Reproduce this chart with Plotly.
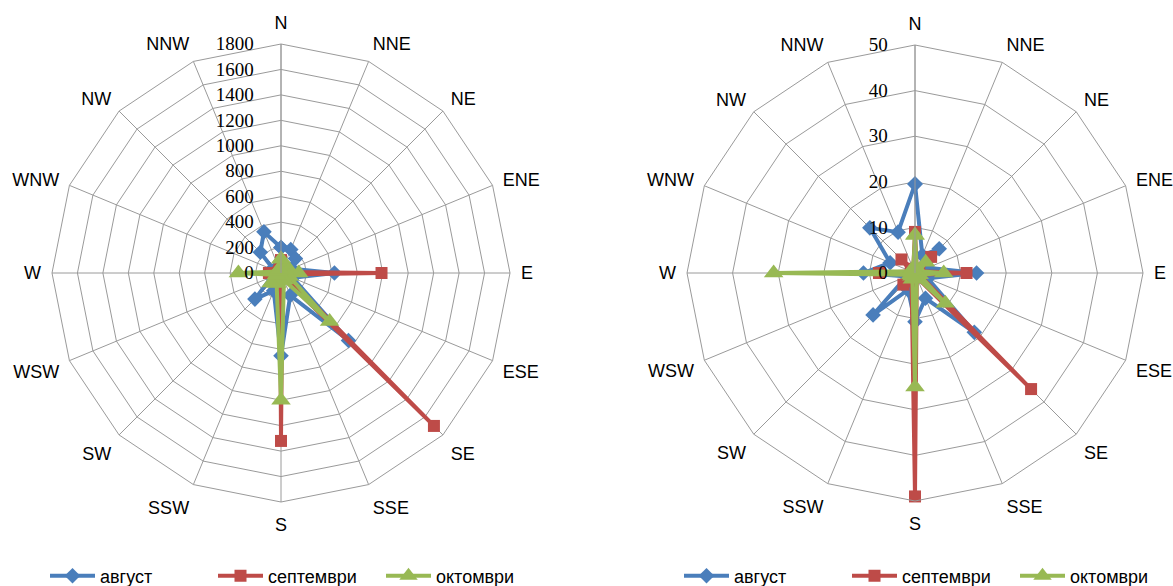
import plotly.graph_objects as go

directions = ["N", "NNE", "NE", "ENE", "E", "ESE", "SE", "SSE",
              "S", "SSW", "SW", "WSW", "W", "WNW", "NW", "NNW"]
series_names = ["август", "септември", "октомври"]

# Left chart values
left_avgust = [200, 200, 160, 90, 420, 100, 750, 190, 650, 150, 290, 80, 100, 60, 230, 350]
left_septemvri = [100, 30, 20, 20, 790, 30, 1700, 30, 1320, 20, 30, 20, 95, 20, 20, 30]
left_oktomvri = [110, 50, 50, 70, 140, 70, 540, 60, 1000, 90, 110, 40, 335, 30, 30, 30]

# Right chart values
right_avgust = [19.5, 4.2, 7.5, 3, 13.5, 3, 18.4, 6, 10.7, 4, 13, 2, 11.3, 5.9, 14, 9.7]
right_septemvri = [9, 1, 5, 1, 11.3, 1, 36, 1, 49, 2, 3.6, 1, 7.9, 1, 4.2, 1]
right_oktomvri = [8.3, 1, 3.3, 1, 6.3, 1, 9.4, 1, 25, 1.5, 1, 1, 31, 1, 1, 1]

colors = ["#4A7EBB", "#BE4B48", "#98B954"]
symbols = ["diamond", "square", "triangle-up"]
msizes = [12, 12, 17]

fig = go.Figure()

def add_series(values_list, subplot, legend):
    for name, vals, col, sym, ms in zip(series_names, values_list, colors, symbols, msizes):
        fig.add_trace(go.Scatterpolar(
            r=vals + [vals[0]],
            theta=directions + [directions[0]],
            mode="lines+markers",
            name=name,
            line=dict(color=col, width=4),
            marker=dict(symbol=sym, size=ms, color=col),
            subplot=subplot,
            legend=legend,
        ))

add_series([left_avgust, left_septemvri, left_oktomvri], "polar", "legend")
add_series([right_avgust, right_septemvri, right_oktomvri], "polar2", "legend2")

grid = "#9A9A9A"
ang_font = dict(family="Liberation Sans, sans-serif", size=18, color="#000000")
rad_font = dict(family="Liberation Serif, DejaVu Serif, serif", size=19, color="#000000")
leg_font = dict(family="Liberation Sans, sans-serif", size=18, color="#000000")

def polar_cfg(xdom, ydom, rmax, dtick):
    return dict(
        domain=dict(x=xdom, y=ydom),
        bgcolor="white",
        gridshape="linear",
        radialaxis=dict(range=[0, rmax], dtick=dtick, angle=90, side="counterclockwise",
                        tickangle=90, showline=True, linecolor=grid, linewidth=1,
                        gridcolor=grid, gridwidth=1, ticks="outside", ticklen=20,
                        tickcolor="rgba(0,0,0,0)", tickfont=rad_font),
        angularaxis=dict(direction="clockwise", rotation=90, type="category",
                         categoryarray=directions, linecolor=grid, linewidth=1,
                         gridcolor=grid, gridwidth=1, ticks="outside", ticklen=7,
                         tickcolor="rgba(0,0,0,0)", tickfont=ang_font),
    )

W, H = 1173, 586
cl, cr, cy = 281, 915, 273
rad_l, rad_r = 229, 228
leg_shift = 16
fig.update_layout(
    width=W, height=H,
    margin=dict(l=0, r=0, t=0, b=0, autoexpand=False),
    paper_bgcolor="white",
    polar=polar_cfg([(cl - rad_l) / W, (cl + rad_l) / W],
                    [(H - cy - rad_l) / H, (H - cy + rad_l) / H], 1800, 200),
    polar2=polar_cfg([(cr - rad_r) / W, (cr + rad_r) / W],
                     [(H - cy - rad_r) / H, (H - cy + rad_r) / H], 50, 10),
    legend=dict(orientation="h", x=(cl + leg_shift) / W, xanchor="center", yref="container",
                y=(H - 576) / H, yanchor="middle", font=leg_font, itemwidth=45,
                entrywidth=108, entrywidthmode="pixels"),
    legend2=dict(orientation="h", x=(cr + leg_shift) / W, xanchor="center", yref="container",
                 y=(H - 576) / H, yanchor="middle", font=leg_font, itemwidth=45,
                 entrywidth=108, entrywidthmode="pixels"),
)

fig.write_html("out.html",
               config={"displayModeBar": False},
               post_script="document.body.style.margin='0';document.body.style.overflow='hidden';")
